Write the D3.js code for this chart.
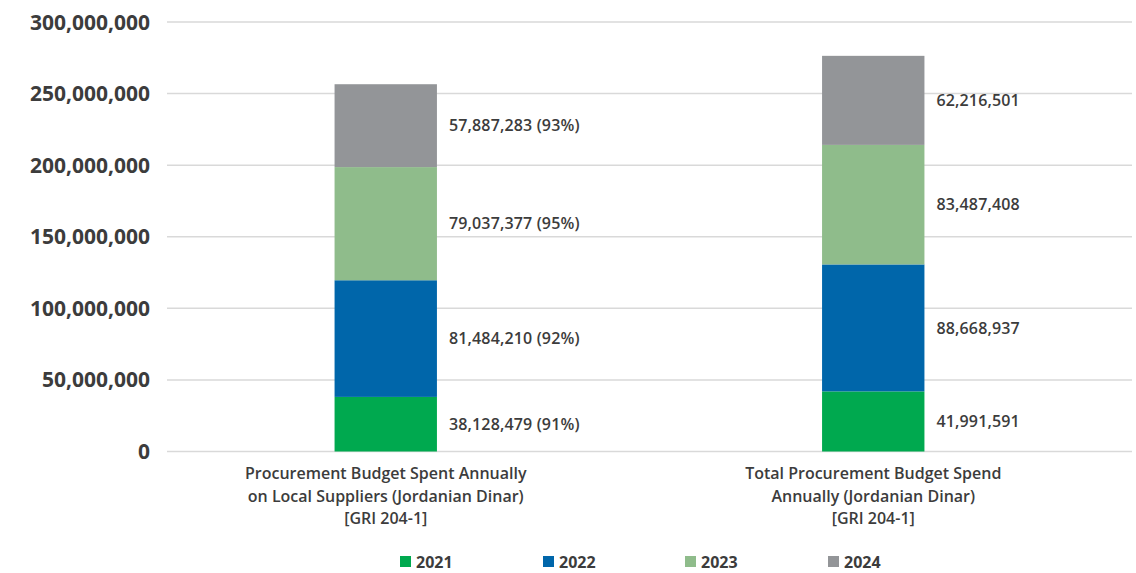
<!DOCTYPE html>
<html>
<head>
<meta charset="utf-8">
<script src="https://cdn.jsdelivr.net/npm/d3@7"></script>
<style>
  body { margin: 0; background: #fff; }
  svg text { font-family: "Open Sans", "Noto Sans", sans-serif; fill: #3c3c3c; }
</style>
</head>
<body>
<div id="chart"></div>
<script>
// chart data
const categories = [
    ["Procurement Budget Spent Annually", "on Local Suppliers (Jordanian Dinar)", "[GRI 204-1]"],
    ["Total Procurement Budget Spend", "Annually (Jordanian Dinar)", "[GRI 204-1]"]
];
const years = ["2021", "2022", "2023", "2024"];
const localValues = [38128479, 81484210, 79037377, 57887283];
const localShares = ["91%", "92%", "95%", "93%"];
const totalValues = [41991591, 88668937, 83487408, 62216501];
const yTicks = [0, 50000000, 100000000, 150000000, 200000000, 250000000, 300000000];
const colors = ["#00a94f", "#0066aa", "#8fbc8b", "#939598"];

const width = 1136;
const height = 573;

const svg = d3.select("#chart").append("svg")
    .attr("width", width)
    .attr("height", height);

const y = d3.scaleLinear()
    .domain([0, 300000000])
    .range([451.5, 22]);

const x = d3.scaleBand()
    .domain([0, 1])
    .range([142, 1117])
    .paddingInner(0.79)
    .paddingOuter(0.395);

// gridlines + y labels
const grid = svg.append("g");
grid.selectAll("line")
    .data(yTicks)
    .enter().append("line")
    .attr("x1", 167)
    .attr("x2", 1132)
    .attr("y1", d => y(d))
    .attr("y2", d => y(d))
    .attr("stroke", "#d9d9d9")
    .attr("stroke-width", 1.5);

grid.selectAll("text")
    .data(yTicks)
    .enter().append("text")
    .attr("x", 150)
    .attr("y", d => y(d))
    .attr("dy", "0.36em")
    .attr("text-anchor", "end")
    .style("font-size", "21px")
    .style("font-weight", 700)
    .text(d => d3.format(",")(d));

// build stacked segments
const series = [
    { values: localValues, labels: localValues.map((v, i) => d3.format(",")(v) + " (" + localShares[i] + ")") },
    { values: totalValues, labels: totalValues.map(v => d3.format(",")(v)) }
];

series.forEach((s, ci) => {
    let base = 0;
    const segs = s.values.map((v, i) => {
        const seg = { y0: base, y1: base + v, color: colors[i], label: s.labels[i] };
        base += v;
        return seg;
    });
    const g = svg.append("g");
    g.selectAll("rect")
        .data(segs)
        .enter().append("rect")
        .attr("x", x(ci))
        .attr("width", x.bandwidth())
        .attr("y", d => y(d.y1))
        .attr("height", d => y(d.y0) - y(d.y1))
        .attr("fill", d => d.color);

    g.selectAll("text")
        .data(segs)
        .enter().append("text")
        .attr("x", x(ci) + x.bandwidth() + 12)
        .attr("y", d => y((d.y0 + d.y1) / 2))
        .attr("dy", "0.36em")
        .style("font-size", "16px")
        .style("font-weight", 600)
        .style("letter-spacing", "0.15px")
        .text(d => d.label);

    // category label
    const cat = svg.append("text")
        .attr("x", x(ci) + x.bandwidth() / 2)
        .attr("y", 479)
        .attr("text-anchor", "middle")
        .style("font-size", "16px")
        .style("font-weight", 600);
    cat.selectAll("tspan")
        .data(categories[ci])
        .enter().append("tspan")
        .attr("x", x(ci) + x.bandwidth() / 2)
        .attr("dy", (d, i) => i === 0 ? 0 : 22.5)
        .text(d => d);
});

// legend
const legendX = [400, 543, 685, 828];
const legend = svg.append("g").selectAll("g")
    .data(years)
    .enter().append("g")
    .attr("transform", (d, i) => `translate(${legendX[i]},556)`);

legend.append("rect")
    .attr("width", 11)
    .attr("height", 11)
    .attr("fill", (d, i) => colors[i]);

legend.append("text")
    .attr("x", 16)
    .attr("y", 6)
    .attr("dy", "0.36em")
    .style("font-size", "16px")
    .style("font-weight", 700)
    .text(d => d);
</script>
</body>
</html>
